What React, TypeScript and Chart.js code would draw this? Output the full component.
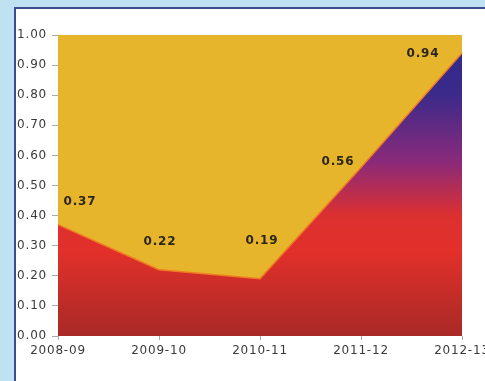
import React, { useEffect, useRef } from "react";
import { Chart, registerables } from "chart.js";

Chart.register(...registerables);

const categories = ["2008-09", "2009-10", "2010-11", "2011-12", "2012-13"];
const values = [0.37, 0.22, 0.19, 0.56, 0.94];
const valueLabels = ["0.37", "0.22", "0.19", "0.56", "0.94"];
const labelDx = [22, 1, 2, -23, -39];
const labelDy = [-23, -28, -38, -6, 1];

const GOLD = "#e7b52b";

const bgPlugin = {
  id: "goldBg",
  beforeDraw(chart: any) {
    (chart.ctx as any).letterSpacing = "0.8px";
  },
  beforeDatasetsDraw(chart: any) {
    const { ctx, chartArea } = chart;
    ctx.save();
    ctx.fillStyle = GOLD;
    ctx.fillRect(chartArea.left, chartArea.top, chartArea.right - chartArea.left, chartArea.bottom - chartArea.top);
    ctx.restore();
  },
};

const labelPlugin = {
  id: "valueLabels",
  afterDatasetsDraw(chart: any) {
    const { ctx } = chart;
    const meta = chart.getDatasetMeta(0);
    ctx.save();
    ctx.font = "bold 12px 'DejaVu Sans', Arial, sans-serif";
    ctx.fillStyle = "#2b2618";
    ctx.textAlign = "center";
    ctx.textBaseline = "middle";
    meta.data.forEach((pt: any, i: number) => {
      ctx.fillText(valueLabels[i], pt.x + labelDx[i], pt.y + labelDy[i]);
    });
    ctx.restore();
  },
};

export default function App() {
  const ref = useRef<HTMLCanvasElement>(null);
  useEffect(() => {
    if (!ref.current) return;
    const chart = new Chart(ref.current, {
      type: "line",
      data: {
        labels: categories,
        datasets: [
          {
            data: values,
            fill: "origin",
            tension: 0,
            pointRadius: 0,
            borderColor: "#f07a22",
            borderWidth: 1.5,
            backgroundColor: (c: any) => {
              const { ctx, chartArea } = c.chart;
              if (!chartArea) return "#d83030";
              const g = ctx.createLinearGradient(0, chartArea.top, 0, chartArea.bottom);
              g.addColorStop(0, "#2f2a8c");
              g.addColorStop(0.2, "#3c2a8a");
              g.addColorStop(0.42, "#8a2a7a");
              g.addColorStop(0.6, "#dc3030");
              g.addColorStop(0.72, "#e2302a");
              g.addColorStop(1, "#a82926");
              return g;
            },
          },
        ],
      },
      options: {
        animation: false,
        responsive: false,
        events: [],
        layout: { padding: { left: 0, right: 78, top: 35, bottom: 0 } },
        plugins: { legend: { display: false }, tooltip: { enabled: false } },
        scales: {
          x: {
            offset: false,
            border: { display: false },
            grid: { display: true, drawOnChartArea: false, tickLength: 4, color: "#aaaaaa" },
            ticks: {
              color: "#3a3a3a",
              font: { family: "'DejaVu Sans', Arial, sans-serif", size: 12 },
              padding: 4,
              maxRotation: 0,
              autoSkip: false,
            },
            afterFit: (s: any) => {
              s.height = 45;
            },
          },
          y: {
            min: 0,
            max: 1,
            border: { display: false },
            grid: { display: true, drawOnChartArea: false, tickLength: 6, color: "#aaaaaa" },
            ticks: {
              stepSize: 0.1,
              color: "#3a3a3a",
              font: { family: "'DejaVu Sans', Arial, sans-serif", size: 12 },
              padding: 5,
              callback: (v: any) => Number(v).toFixed(2),
            },
            afterFit: (s: any) => {
              s.width = 58;
            },
          },
        },
      },
      plugins: [bgPlugin, labelPlugin],
    });
    return () => chart.destroy();
  }, []);

  return (
    <div style={{ position: "fixed", left: 0, top: 0, width: 485, height: 381, overflow: "hidden", background: "#bfe1f1" }}>
      <div
        style={{
          position: "absolute",
          left: 14,
          top: 7,
          width: 500,
          height: 400,
          background: "#ffffff",
          borderLeft: "2px solid #3a4d8c",
          borderTop: "2px solid #3a4d8c",
        }}
      />
      <canvas ref={ref} width={540} height={381} style={{ position: "absolute", left: 0, top: 0, width: 540, height: 381 }} />
    </div>
  );
}
